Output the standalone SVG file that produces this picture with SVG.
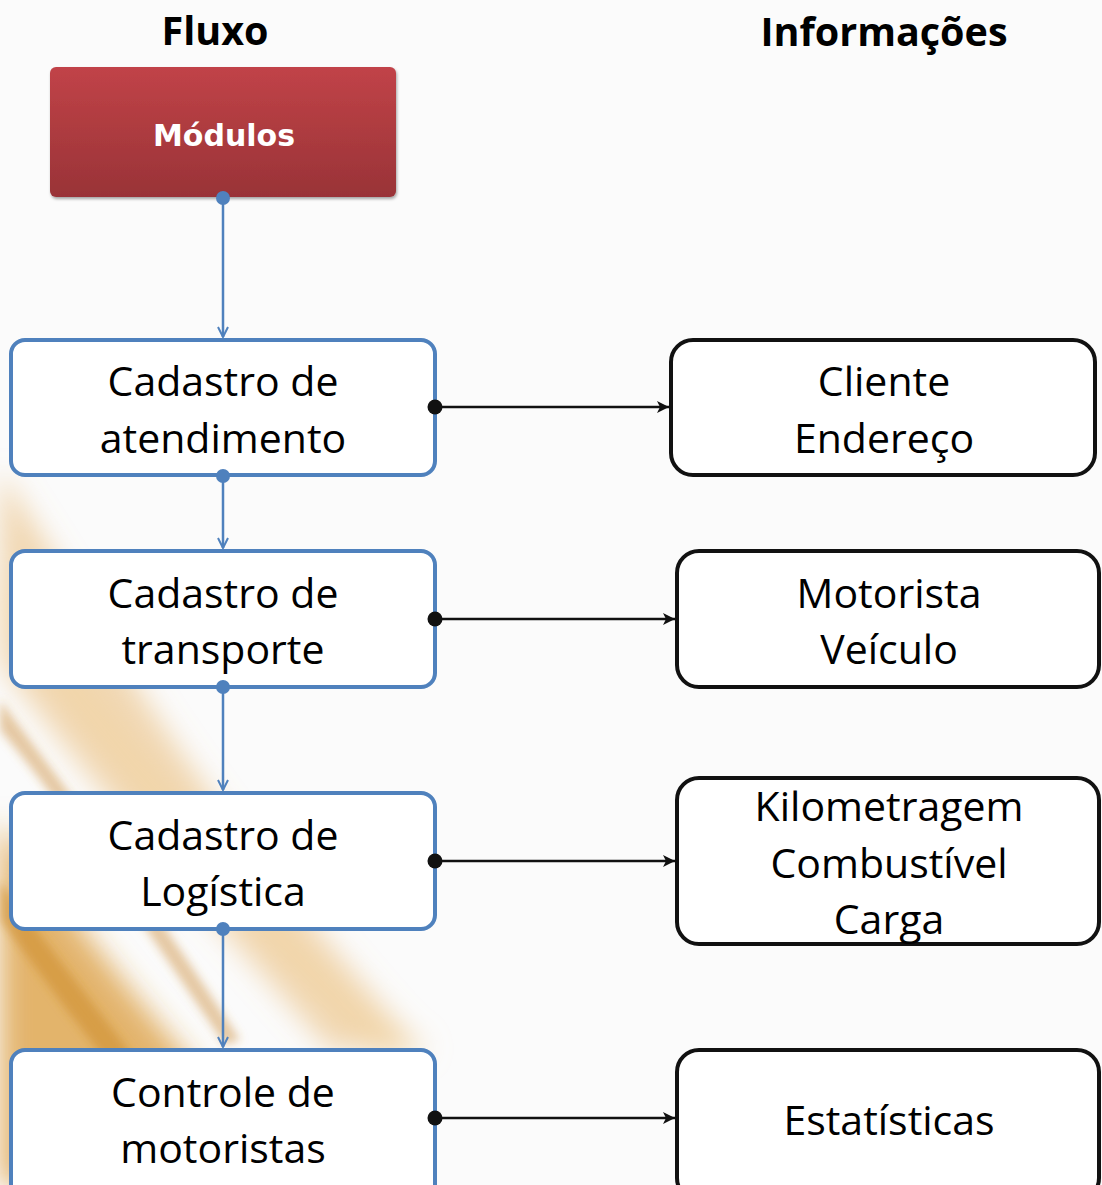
<svg xmlns="http://www.w3.org/2000/svg" width="1102" height="1185" viewBox="0 0 1102 1185">
<style>
.t{font-family:"Open Sans","Noto Sans","Liberation Sans",sans-serif;font-size:41px;fill:#000;text-anchor:middle}
.h{font-family:"Open Sans","Noto Sans","Liberation Sans",sans-serif;font-size:39.5px;font-weight:bold;fill:#000;text-anchor:middle}
.fl{fill:#fff;stroke:#4f81bd;stroke-width:4}
.inf{fill:#fff;stroke:#111;stroke-width:4}
.bl{stroke:#4f81bd;stroke-width:2.5;fill:none}
.bk{stroke:#111;stroke-width:2.5;fill:none}
</style>
<defs>
<linearGradient id="red" x1="0" y1="0" x2="0" y2="1">
<stop offset="0" stop-color="#c14348"/>
<stop offset="1" stop-color="#993337"/>
</linearGradient>
<filter id="blur" x="-50%" y="-50%" width="200%" height="200%"><feGaussianBlur stdDeviation="14"/></filter>
<filter id="blur2" x="-50%" y="-50%" width="200%" height="200%"><feGaussianBlur stdDeviation="5"/></filter>
<filter id="sh" x="-10%" y="-10%" width="120%" height="130%"><feDropShadow dx="1" dy="2" stdDeviation="1.5" flood-color="#000" flood-opacity="0.35"/></filter>
<marker id="ab" viewBox="0 0 12 12" refX="11" refY="6" markerWidth="12" markerHeight="12" markerUnits="userSpaceOnUse" orient="auto">
<path d="M1,1 L11,6 L1,11" fill="none" stroke="#4f81bd" stroke-width="2"/>
</marker>
<marker id="ak" viewBox="0 0 14 14" refX="13" refY="7" markerWidth="14" markerHeight="14" markerUnits="userSpaceOnUse" orient="auto">
<path d="M1,1 L13,7 L1,13 L4,7 Z" fill="#111"/>
</marker>
</defs>
<rect width="1102" height="1185" fill="#fbfbfb"/>
<g id="background" filter="url(#blur)">
<path d="M0,470 C60,560 140,700 230,820 C300,910 360,980 420,1050 L330,1050 C250,960 150,850 60,740 C30,700 10,680 0,660 Z" fill="#e8b36a" opacity="0.5"/>
<path d="M0,820 C60,900 120,980 190,1060 L260,1185 L0,1185 Z" fill="#d9952f" opacity="0.7"/>
<path d="M0,560 C80,680 170,780 270,900 C330,970 380,1020 430,1050 L380,1060 C300,990 220,900 140,800 C80,730 30,660 0,620 Z" fill="#f1d3a4" opacity="0.6"/>
</g>
<g id="background2" filter="url(#blur2)">
<path d="M0,700 C60,780 150,900 240,1040 L225,1045 C140,920 60,800 0,730 Z" fill="#c98a36" opacity="0.45"/>
<path d="M0,880 C50,950 100,1010 150,1080 L130,1090 C80,1030 30,960 0,920 Z" fill="#cc8a2c" opacity="0.55"/>
</g>
<g id="titles">
<text class="h" x="215" y="45">Fluxo</text>
<text class="h" x="884" y="46">Informações</text>
</g>
<g id="modulos">
<rect x="50" y="67" width="346" height="130" rx="6" fill="url(#red)" filter="url(#sh)"/>
<text x="224" y="146" font-family="'DejaVu Sans','Liberation Sans',sans-serif" font-size="30" font-weight="bold" fill="#fff" text-anchor="middle">Módulos</text>
</g>
<g id="cadastro-atendimento">
<rect class="fl" x="11" y="340" width="424" height="135" rx="14"/>
<text class="t" x="223" y="396">Cadastro de</text>
<text class="t" x="223" y="453">atendimento</text>
</g>
<g id="cadastro-transporte">
<rect class="fl" x="11" y="551" width="424" height="136" rx="14"/>
<text class="t" x="223" y="608">Cadastro de</text>
<text class="t" x="223" y="664">transporte</text>
</g>
<g id="cadastro-logistica">
<rect class="fl" x="11" y="793" width="424" height="136" rx="14"/>
<text class="t" x="223" y="850">Cadastro de</text>
<text class="t" x="223" y="906">Logística</text>
</g>
<g id="controle-motoristas">
<rect class="fl" x="11" y="1050" width="424" height="150" rx="14"/>
<text class="t" x="223" y="1107">Controle de</text>
<text class="t" x="223" y="1163">motoristas</text>
</g>
<g id="info-cliente">
<rect class="inf" x="671" y="340" width="424" height="135" rx="22"/>
<text class="t" x="884" y="396">Cliente</text>
<text class="t" x="884" y="453">Endereço</text>
</g>
<g id="info-motorista">
<rect class="inf" x="677" y="551" width="422" height="136" rx="22"/>
<text class="t" x="889" y="608">Motorista</text>
<text class="t" x="889" y="664">Veículo</text>
</g>
<g id="info-km">
<rect class="inf" x="677" y="778" width="422" height="166" rx="22"/>
<text class="t" x="889" y="821">Kilometragem</text>
<text class="t" x="889" y="878">Combustível</text>
<text class="t" x="889" y="934">Carga</text>
</g>
<g id="info-estatisticas">
<rect class="inf" x="677" y="1050" width="422" height="150" rx="22"/>
<text class="t" x="889" y="1135">Estatísticas</text>
</g>
<g id="connectors">
<line class="bl" x1="223" y1="198" x2="223" y2="337" marker-end="url(#ab)"/>
<line class="bl" x1="223" y1="476" x2="223" y2="548" marker-end="url(#ab)"/>
<line class="bl" x1="223" y1="687" x2="223" y2="790" marker-end="url(#ab)"/>
<line class="bl" x1="223" y1="929" x2="223" y2="1047" marker-end="url(#ab)"/>
<circle cx="223" cy="198" r="7" fill="#4f81bd"/>
<circle cx="223" cy="476" r="7" fill="#4f81bd"/>
<circle cx="223" cy="687" r="7" fill="#4f81bd"/>
<circle cx="223" cy="929" r="7" fill="#4f81bd"/>
<line class="bk" x1="435" y1="407" x2="669" y2="407" marker-end="url(#ak)"/>
<line class="bk" x1="435" y1="619" x2="675" y2="619" marker-end="url(#ak)"/>
<line class="bk" x1="435" y1="861" x2="675" y2="861" marker-end="url(#ak)"/>
<line class="bk" x1="435" y1="1118" x2="675" y2="1118" marker-end="url(#ak)"/>
<circle cx="435" cy="407" r="7.5" fill="#111"/>
<circle cx="435" cy="619" r="7.5" fill="#111"/>
<circle cx="435" cy="861" r="7.5" fill="#111"/>
<circle cx="435" cy="1118" r="7.5" fill="#111"/>
</g>
</svg>
